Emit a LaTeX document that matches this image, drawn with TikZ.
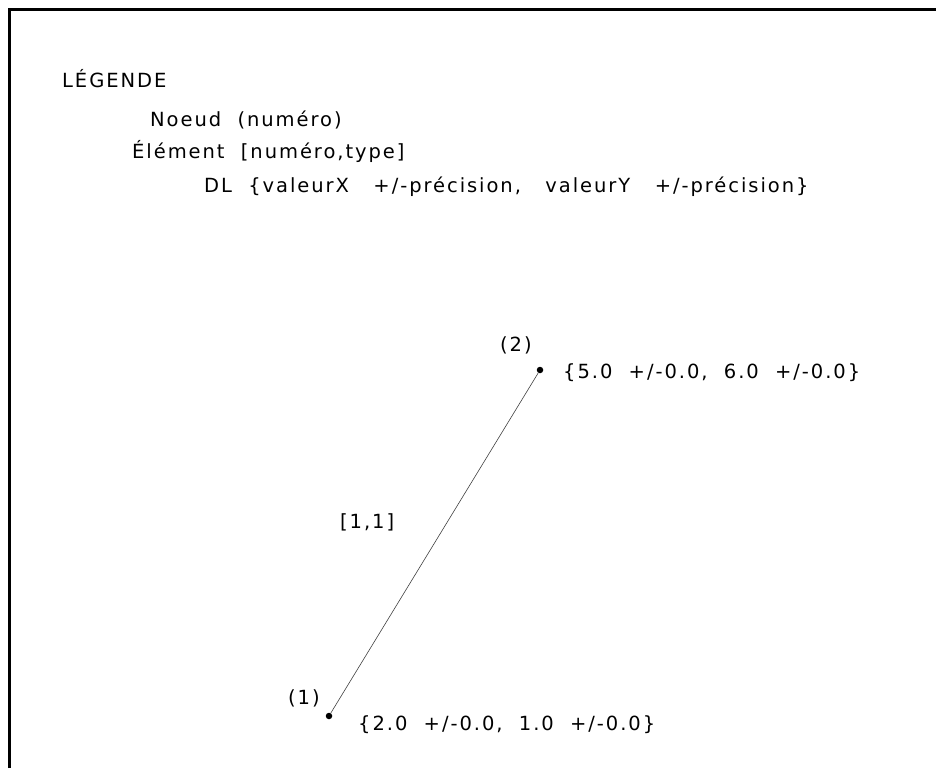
\documentclass[tikz,border=0pt]{standalone}
\usepackage{fontspec}
\setmainfont{DejaVu Sans}
\newfontfamily\plotfont[LetterSpace=10]{DejaVu Sans}
\usepackage{tikz}
\usetikzlibrary{positioning}

\begin{document}
\begin{tikzpicture}[
  x=1pt, y=-1pt,
  lbl/.style={inner sep=0pt, anchor=west, font=\plotfont\fontsize{19.5}{22}\selectfont},
  noeud/.style={circle, fill, inner sep=0pt, minimum size=6.5pt},
  element/.style={line width=0.6pt, black!75},
  cadre/.style={line width=3pt}
]
  \useasboundingbox (0,0) rectangle (936,768);

  % Frame
  \draw[cadre] (9.5,768) -- (9.5,10) -- (936,10);

  % Legend
  \node[lbl] (titre) at (62,79) {LÉGENDE};
  \node[lbl] (legnoeud) at (150,120) {Noeud\ \ (numéro)};
  \node[lbl] (legelem) at (132,151) {Élément\ \ [numéro,type]};
  \node[lbl] (legdl) at (204,187) {DL\ \ \{valeurX\ \ \ +/-précision,\ \ \ valeurY\ \ \ +/-précision\}};

  % Nodes
  \node[noeud] (n1) at (329,716) {};
  \node[noeud] (n2) at (540,370) {};

  % Element
  \draw[element] (n1) -- (n2);
  \node[lbl] (e1) at (340,522) {[1,1]};

  % Node labels
  \node[lbl] (num1) at (288,698) {(1)};
  \node[lbl] (num2) at (500,345) {(2)};
  \node[lbl] (dl1) at (358,725) {\{2.0\ \ +/-0.0,\ \ 1.0\ \ +/-0.0\}};
  \node[lbl] (dl2) at (563,373) {\{5.0\ \ +/-0.0,\ \ 6.0\ \ +/-0.0\}};
\end{tikzpicture}
\end{document}
